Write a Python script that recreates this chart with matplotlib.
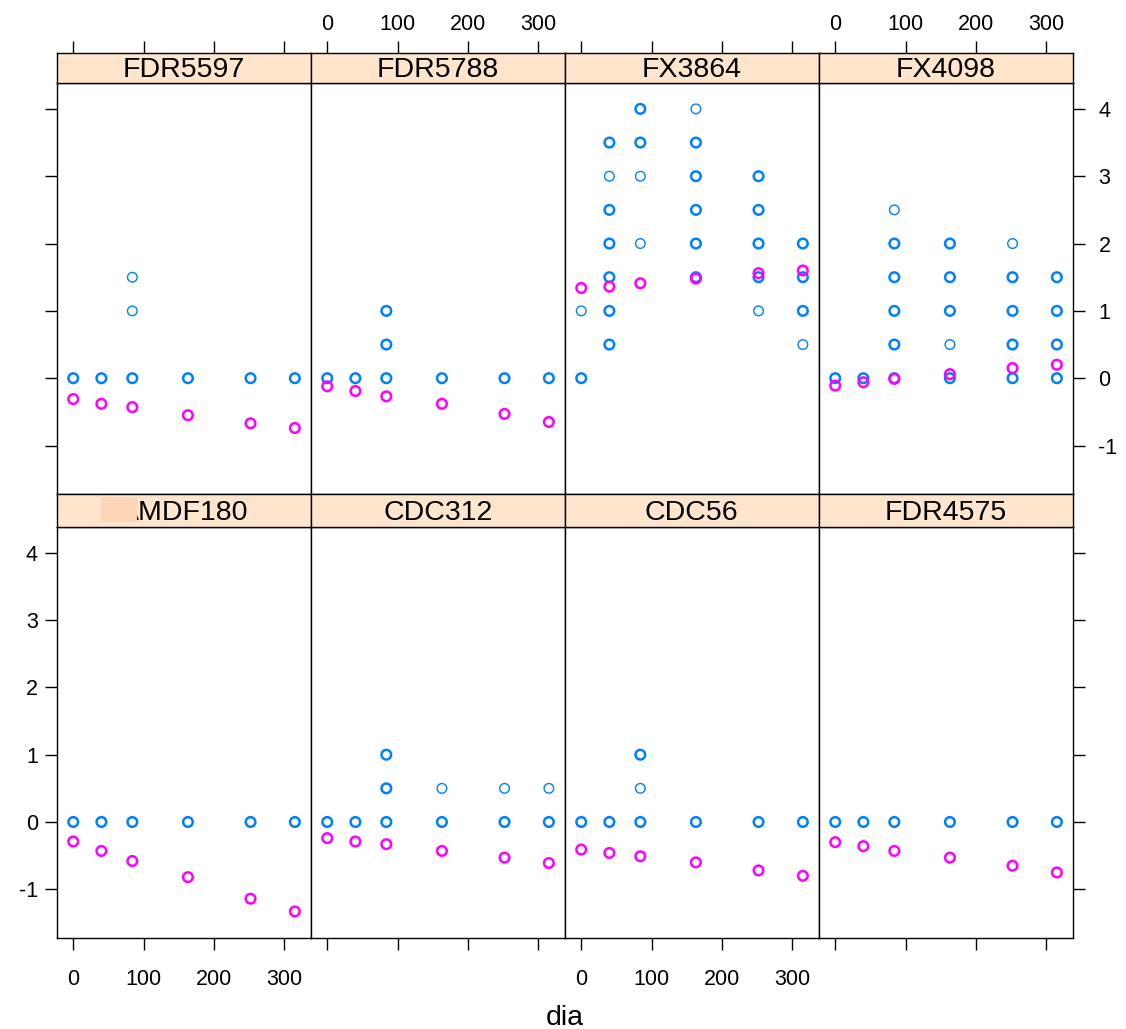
import numpy as np
import matplotlib
matplotlib.use("Agg")
import matplotlib.pyplot as plt
from matplotlib.patches import FancyBboxPatch
from collections import Counter

plt.rcParams['font.family'] = ['Liberation Sans', 'DejaVu Sans']

# dias de avaliacao
dias = [0, 40, 84, 163, 252, 315]

# ordem dos paineis (linha de cima, depois linha de baixo)
genotipos = ["FDR5597", "FDR5788", "FX3864", "FX4098",
             "AMDF180", "CDC312", "CDC56", "FDR4575"]

# notas observadas por dia (valores repetidos = varias observacoes)
obs_FDR5597 = [[0, 0], [0, 0], [0, 0, 1, 1.5], [0, 0], [0, 0], [0, 0]]
obs_FDR5788 = [[0, 0], [0, 0], [0, 0, 0.5, 0.5, 1, 1], [0, 0], [0, 0], [0, 0]]
obs_FX3864 = [[0, 0, 1],
              [0.5, 0.5, 1, 1, 1.5, 1.5, 2, 2, 2.5, 2.5, 3, 3.5, 3.5],
              [2, 3, 3.5, 3.5, 4, 4],
              [1.5, 1.5, 2, 2, 2.5, 2.5, 3, 3, 3.5, 3.5, 4],
              [1, 1.5, 1.5, 2, 2, 2.5, 2.5, 3, 3],
              [0.5, 1, 1, 1.5, 1.5, 2, 2]]
obs_FX4098 = [[0, 0], [0, 0],
              [0, 0, 0.5, 0.5, 1, 1, 1.5, 1.5, 2, 2, 2.5],
              [0, 0, 0.5, 1, 1, 1.5, 1.5, 2, 2],
              [0, 0, 0.5, 0.5, 1, 1, 1.5, 1.5, 2],
              [0, 0, 0.5, 0.5, 1, 1, 1.5, 1.5]]
obs_AMDF180 = [[0, 0], [0, 0], [0, 0], [0, 0], [0, 0], [0, 0]]
obs_CDC312 = [[0, 0], [0, 0], [0, 0, 0.5, 0.5, 1, 1], [0, 0, 0.5], [0, 0, 0.5], [0, 0, 0.5]]
obs_CDC56 = [[0, 0], [0, 0], [0, 0, 0.5, 1, 1], [0, 0], [0, 0], [0, 0]]
obs_FDR4575 = [[0, 0], [0, 0], [0, 0], [0, 0], [0, 0], [0, 0]]

# valores ajustados pelo modelo
fit_FDR5597 = [-0.31, -0.38, -0.43, -0.55, -0.67, -0.74]
fit_FDR5788 = [-0.12, -0.19, -0.27, -0.38, -0.53, -0.65]
fit_FX3864 = [1.34, 1.36, 1.41, 1.48, 1.56, 1.60]
fit_FX4098 = [-0.11, -0.06, -0.01, 0.06, 0.15, 0.20]
fit_AMDF180 = [-0.29, -0.43, -0.58, -0.82, -1.14, -1.33]
fit_CDC312 = [-0.24, -0.29, -0.33, -0.43, -0.53, -0.61]
fit_CDC56 = [-0.41, -0.46, -0.51, -0.60, -0.72, -0.80]
fit_FDR4575 = [-0.30, -0.36, -0.43, -0.53, -0.65, -0.75]

obs = [obs_FDR5597, obs_FDR5788, obs_FX3864, obs_FX4098,
       obs_AMDF180, obs_CDC312, obs_CDC56, obs_FDR4575]
fits = [fit_FDR5597, fit_FDR5788, fit_FX3864, fit_FX4098,
        fit_AMDF180, fit_CDC312, fit_CDC56, fit_FDR4575]

W, H = 1126, 1029
fig = plt.figure(figsize=(W / 100, H / 100), dpi=100)

xe = [56.7, 310.7, 564.7, 818.7, 1072.7]
rows = [(52.5, 83.3, 494.0), (494.0, 527.3, 937.7)]  # strip top, panel top, panel bottom
xlim = (-23.5, 337.5)
ylim = (-1.72, 4.38)
azul = "#0080ff"
rosa = "#ff00ff"
fs_tick = 15.5
fs_strip = 20.5
tl = 8.5

def fx(px):
    return px / W

def fy(py):
    return 1 - py / H

for i, g in enumerate(genotipos):
    r, c = divmod(i, 4)
    st, pt, pb = rows[r]
    ax = fig.add_axes([fx(xe[c]), fy(pb), fx(xe[c + 1] - xe[c]), (pb - pt) / H])
    sax = fig.add_axes([fx(xe[c]), fy(pt), fx(xe[c + 1] - xe[c]), (pt - st) / H], sharex=ax)

    # observados
    xs, ys, lw = [], [], []
    for d, vals in zip(dias, obs[i]):
        for v, n in Counter(vals).items():
            xs.append(d)
            ys.append(v)
            lw.append(1.0 if n == 1 else 1.8)
    ax.scatter(xs, ys, s=48, facecolors="none", edgecolors=azul, linewidths=lw, zorder=2)
    ax.scatter(dias, fits[i], s=48, facecolors="none", edgecolors=rosa, linewidths=1.8, zorder=3)

    ax.set_xlim(xlim)
    ax.set_ylim(ylim)
    for sp in ax.spines.values():
        sp.set_linewidth(1.0)
    ax.tick_params(direction="out", length=tl, width=1.0, labelsize=fs_tick)

    # eixo x
    ax.set_xticks([0, 100, 200, 300])
    if r == 0:
        ax.xaxis.set_ticks_position("none")
        ax.tick_params(axis="x", labelbottom=False)
        sax.xaxis.tick_top()
        sax.tick_params(axis="x", direction="out", length=tl, width=1.0,
                        labelsize=fs_tick, labeltop=(c % 2 == 1), pad=4)
    else:
        ax.xaxis.tick_bottom()
        ax.tick_params(axis="x", labelbottom=(c % 2 == 0), pad=14)
        sax.xaxis.set_ticks_position("none")
        sax.tick_params(axis="x", labeltop=False, labelbottom=False)

    # eixo y
    ax.set_yticks([-1, 0, 1, 2, 3, 4])
    ax.set_yticklabels(["-1", "0", "1", "2", "3", "4"])
    if c == 0:
        ax.yaxis.tick_left()
        ax.tick_params(axis="y", labelleft=(r == 1), pad=5)
    elif c == 3:
        ax.yaxis.tick_right()
        ax.tick_params(axis="y", labelright=(r == 0), pad=10)
        for lab in ax.get_yticklabels():
            lab.set_horizontalalignment("left")
    else:
        ax.yaxis.set_ticks_position("none")
        ax.tick_params(axis="y", labelleft=False)

    # faixa com o nome
    sax.set_facecolor("#ffe5cc")
    sax.set_ylim(0, 1)
    sax.set_yticks([])
    for sp in sax.spines.values():
        sp.set_linewidth(1.0)
    sax.text(0.5, 0.42, g, transform=sax.transAxes, ha="center", va="center", fontsize=fs_strip)
    if g == "AMDF180":
        sax.add_patch(FancyBboxPatch((0.174, 0.17), 0.142, 0.74, boxstyle="round,pad=0,rounding_size=0.02",
                                     transform=sax.transAxes, facecolor="#fcd5b4", edgecolor="none", zorder=5))

fig.text(fx((xe[0] + xe[-1]) / 2), fy(1018), "dia", ha="center", va="center", fontsize=fs_strip)

fig.savefig("out.png", dpi=100)
